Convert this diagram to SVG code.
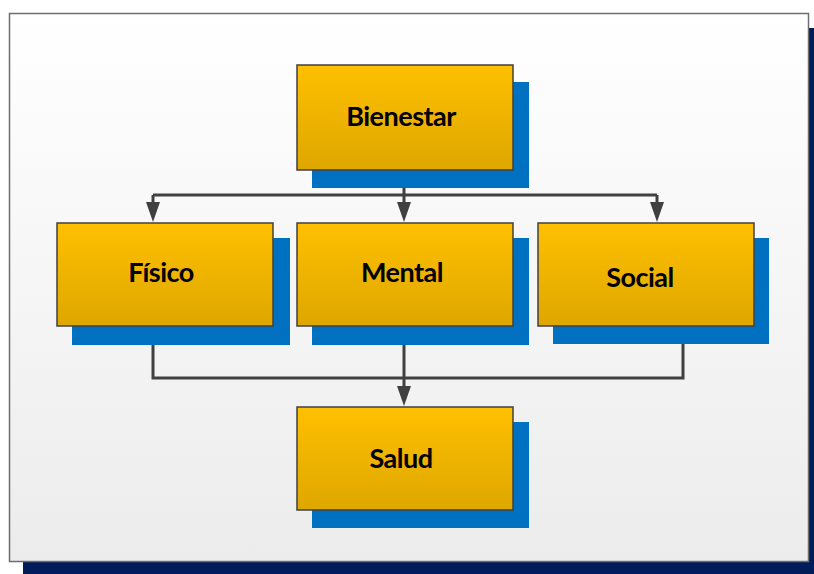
<svg xmlns="http://www.w3.org/2000/svg" width="814" height="574" viewBox="0 0 814 574">
<defs>
<linearGradient id="bg" x1="0" y1="0" x2="0" y2="1"><stop offset="0" stop-color="#ffffff"/><stop offset="1" stop-color="#ececec"/></linearGradient>
<linearGradient id="gold" x1="0" y1="0" x2="0" y2="1"><stop offset="0" stop-color="#ffc000"/><stop offset="1" stop-color="#dea700"/></linearGradient>
<marker id="arr" viewBox="0 0 20 14" refX="0" refY="7" markerWidth="20" markerHeight="14" markerUnits="userSpaceOnUse" orient="auto"><path d="M0,0 L20,7 L0,14 Z" fill="#404040"/></marker>
<style>
.sh{fill:#0070c0}
.bx{fill:url(#gold);stroke:#404040;stroke-width:1.5}
.lb{font-family:Lato,"Open Sans",sans-serif;font-weight:bold;font-size:27px;fill:#000;text-anchor:middle;letter-spacing:-0.5px}
.cn{fill:none;stroke:#404040;stroke-width:3}
</style>
</defs>
<rect x="23" y="28" width="800" height="560" fill="#001c5a"/>
<rect x="9.5" y="13.5" width="799" height="548" fill="url(#bg)" stroke="#6e6e6e" stroke-width="1.5"/>
<g id="connectors">
<path class="cn" d="M404,170 V195 M153,195 H657"/>
<path class="cn" d="M153,195 V202" marker-end="url(#arr)"/>
<path class="cn" d="M404,195 V202" marker-end="url(#arr)"/>
<path class="cn" d="M657,195 V202" marker-end="url(#arr)"/>
<path class="cn" d="M153,326 V378 H683 V326"/>
<path class="cn" d="M404,326 V386" marker-end="url(#arr)"/>
</g>
<g id="bienestar"><rect class="sh" x="312" y="82" width="217" height="106"/><rect class="bx" x="297" y="65" width="216" height="105"/><text class="lb" x="401" y="126">Bienestar</text></g>
<g id="fisico"><rect class="sh" x="72" y="238" width="218" height="107"/><rect class="bx" x="57" y="223" width="216" height="103"/><text class="lb" x="161" y="282">Físico</text></g>
<g id="mental"><rect class="sh" x="312" y="238" width="217" height="107"/><rect class="bx" x="297" y="223" width="216" height="103"/><text class="lb" x="402" y="282">Mental</text></g>
<g id="social"><rect class="sh" x="553" y="238" width="216" height="106"/><rect class="bx" x="538" y="223" width="216" height="103"/><text class="lb" x="640" y="287">Social</text></g>
<g id="salud"><rect class="sh" x="312" y="422" width="217" height="106"/><rect class="bx" x="297" y="407" width="216" height="103"/><text class="lb" x="401" y="468">Salud</text></g>
</svg>
